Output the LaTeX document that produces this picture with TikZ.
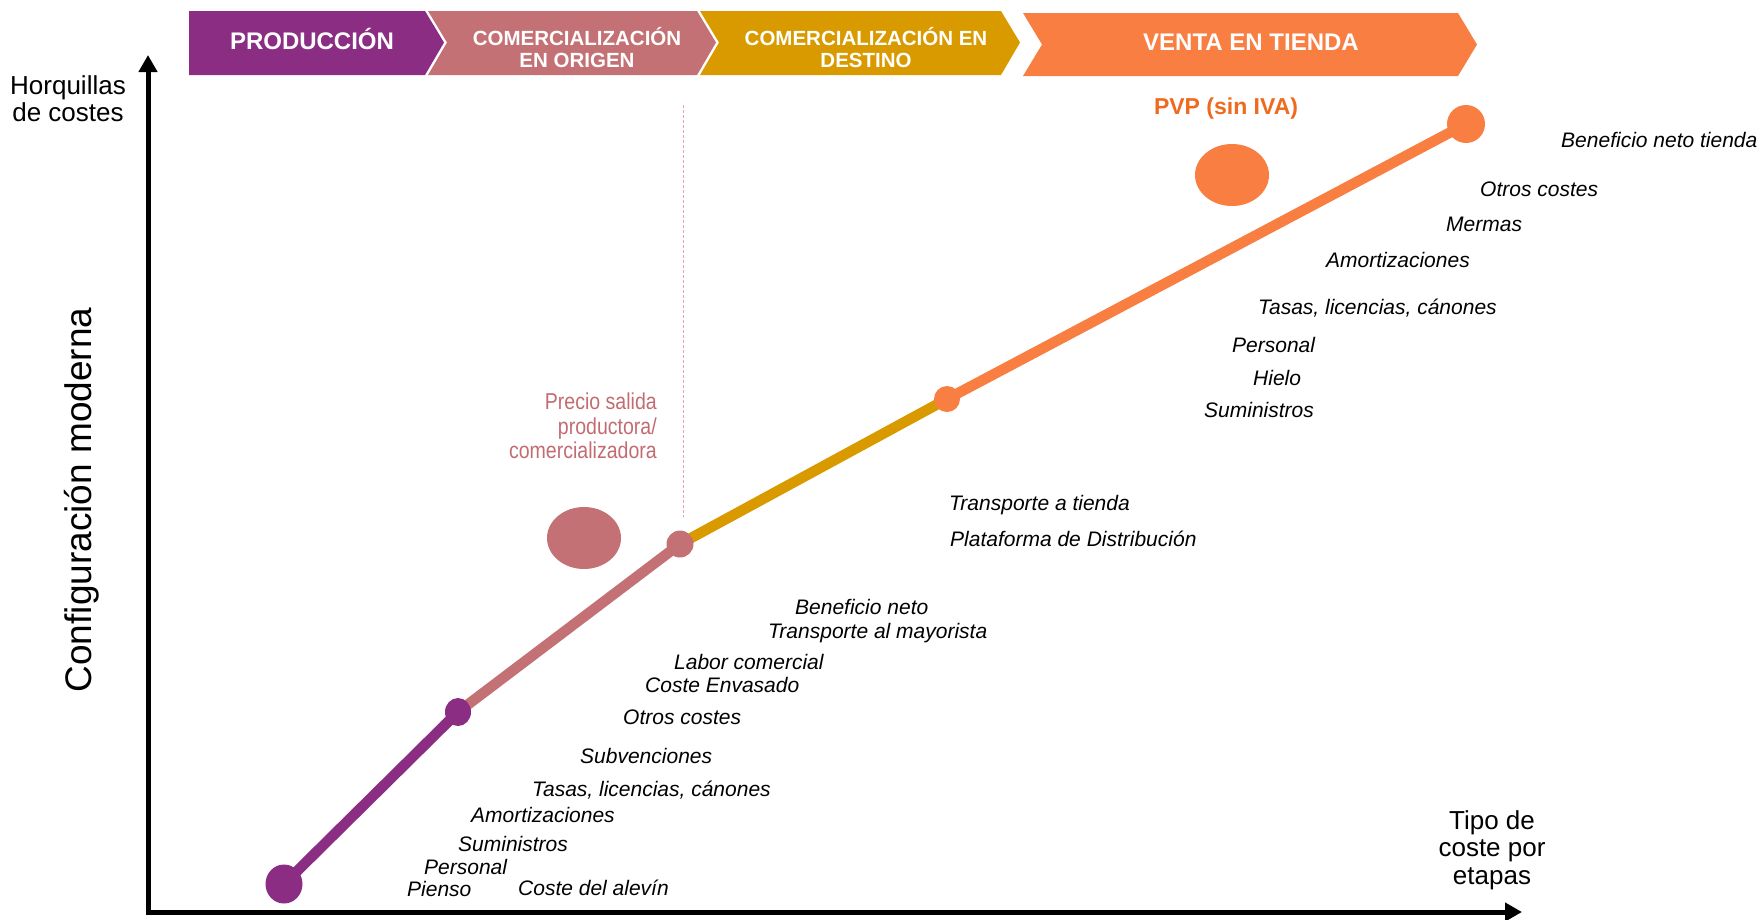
\documentclass[tikz,border=0pt]{standalone}
\usepackage{fontspec}
\setmainfont{Liberation Sans}
\newfontfamily\narrowsans[FakeStretch=0.85]{Liberation Sans}
\usetikzlibrary{arrows.meta,positioning,shapes.geometric,backgrounds}
\definecolor{prodpurple}{HTML}{8B2D83}
\definecolor{origrose}{HTML}{C47175}
\definecolor{destgold}{HTML}{D99A00}
\definecolor{tiendaorange}{HTML}{F97E41}
\definecolor{pvporange}{HTML}{EE6A1F}
\definecolor{salidarose}{HTML}{C26C72}
\definecolor{guidepink}{HTML}{E9A2B0}
\tikzset{
  stage/.style={text=white,align=center,inner sep=0pt,
                font=\fontsize{24}{26}\selectfont\bfseries},
  stagetwo/.style={text=white,align=center,inner sep=0pt,
                font=\fontsize{20.5}{22.5}\selectfont\bfseries},
  cost/.style={anchor=west,inner sep=0pt,yshift=-2pt,font=\fontsize{21}{21}\selectfont\itshape},
  axlab/.style={align=center,inner sep=0pt,font=\fontsize{26}{27.5}\selectfont},
  dot/.style={ellipse,inner sep=0pt,draw=none},
  seg/.style={line width=10.5pt},
  axis/.style={line width=5pt,line cap=rect,-{Triangle[length=17pt,width=18pt]}},
  guide/.style={guidepink,line width=0.8pt,densely dashed},
}
\begin{document}
\begin{tikzpicture}[x=1pt,y=-1pt]
  \useasboundingbox (0,0) rectangle (1763,919);
  % etapas
  \foreach \L/\R/\n/\col in {189/425/0/prodpurple,428/697/19/origrose,700/1001/19/destgold}
    {\fill[\col] (\L,11) -- (\R,11) -- ({\R+19},42.5) -- (\R,75) -- (\L,75) -- ({\L+\n},42.5) -- cycle;}
  \fill[tiendaorange] (1023,13) -- (1458,13) -- (1477,44.5) -- (1458,76) -- (1023,76) -- (1042,44.5) -- cycle;
  \node[stage] (prod) at (312,39) {PRODUCCIÓN};
  \node[stagetwo] (orig) at (577,47.5) {COMERCIALIZACIÓN\\EN ORIGEN};
  \node[stagetwo] (dest) at (866,47.5) {COMERCIALIZACIÓN EN\\DESTINO};
  \node[stage] (tienda) at (1251,42) {VENTA EN TIENDA};
  % ejes
  \coordinate (o) at (148,912);
  \coordinate (ytop) at (148,55);
  \coordinate (xend) at (1522,912);
  \draw[axis] (o) -- (ytop);
  \draw[axis] (o) -- (xend);
  \node[axlab] (horq) at (68,98.5) {Horquillas\\de costes};
  \node[axlab] (tipo) at (1492,850) {Tipo de\\coste por\\etapas};
  \node[rotate=90,inner sep=0pt,font=\fontsize{37}{37}\selectfont] (config) at (82,500) {Configuración moderna};
  % precios
  \draw[guide] (683,105) -- (683,517);
  \node[inner sep=0pt,text=pvporange,font=\fontsize{23}{23}\selectfont\bfseries] (pvptxt) at (1226,109) {PVP (sin IVA)};
  \node[anchor=east,align=right,inner sep=0pt,text=salidarose,font=\narrowsans\fontsize{23}{24.5}\selectfont] (salidatxt) at (657,426) {Precio salida\\productora/\\comercializadora};
  \node[dot,fill=origrose,minimum width=74pt,minimum height=62pt] (salida) at (584,538) {};
  \node[dot,fill=tiendaorange,minimum width=74pt,minimum height=62pt] (pvp) at (1232,175) {};
  % recorrido
  \node[dot,fill=prodpurple,minimum width=37pt,minimum height=39pt] (p0) at (284,884) {};
  \node[dot,fill=prodpurple,minimum width=26pt,minimum height=28pt] (p1) at (458,712) {};
  \node[dot,fill=origrose,minimum size=27pt] (p2) at (680,544) {};
  \node[dot,fill=tiendaorange,minimum size=26pt] (p3) at (947,399) {};
  \node[dot,fill=tiendaorange,minimum size=38pt] (p4) at (1466,124) {};
  \begin{scope}[on background layer]
    \draw[seg,prodpurple] (p0.center) -- (p1.center);
    \draw[seg,origrose] (p1.center) -- (p2.center);
    \draw[seg,destgold] (p2.center) -- (p3.center);
    \draw[seg,tiendaorange] (p3.center) -- (p4.center);
  \end{scope}
  % costes
  \foreach \x/\y/\t [count=\i] in {1561/138/Beneficio neto tienda,1480/187/Otros costes,
      1446/222/Mermas,1326/258/Amortizaciones,1258/306/{Tasas, licencias, cánones},
      1232/343/Personal,1253/376/Hielo,1204/408/Suministros,
      949/503/Transporte a tienda,950/537/Plataforma de Distribución}
    {\node[cost] (dst\i) at (\x,\y) {\t};}
  \foreach \x/\y/\t [count=\i] in {795/605/Beneficio neto,768/631/Transporte al mayorista,
      674/660/Labor comercial,645/683/Coste Envasado,623/715/Otros costes,
      580/754/Subvenciones,532/788/{Tasas, licencias, cánones},471/813/Amortizaciones,
      458/842/Suministros,424/865/Personal,407/887/Pienso,518/886/Coste del alevín}
    {\node[cost] (org\i) at (\x,\y) {\t};}
\end{tikzpicture}
\end{document}
